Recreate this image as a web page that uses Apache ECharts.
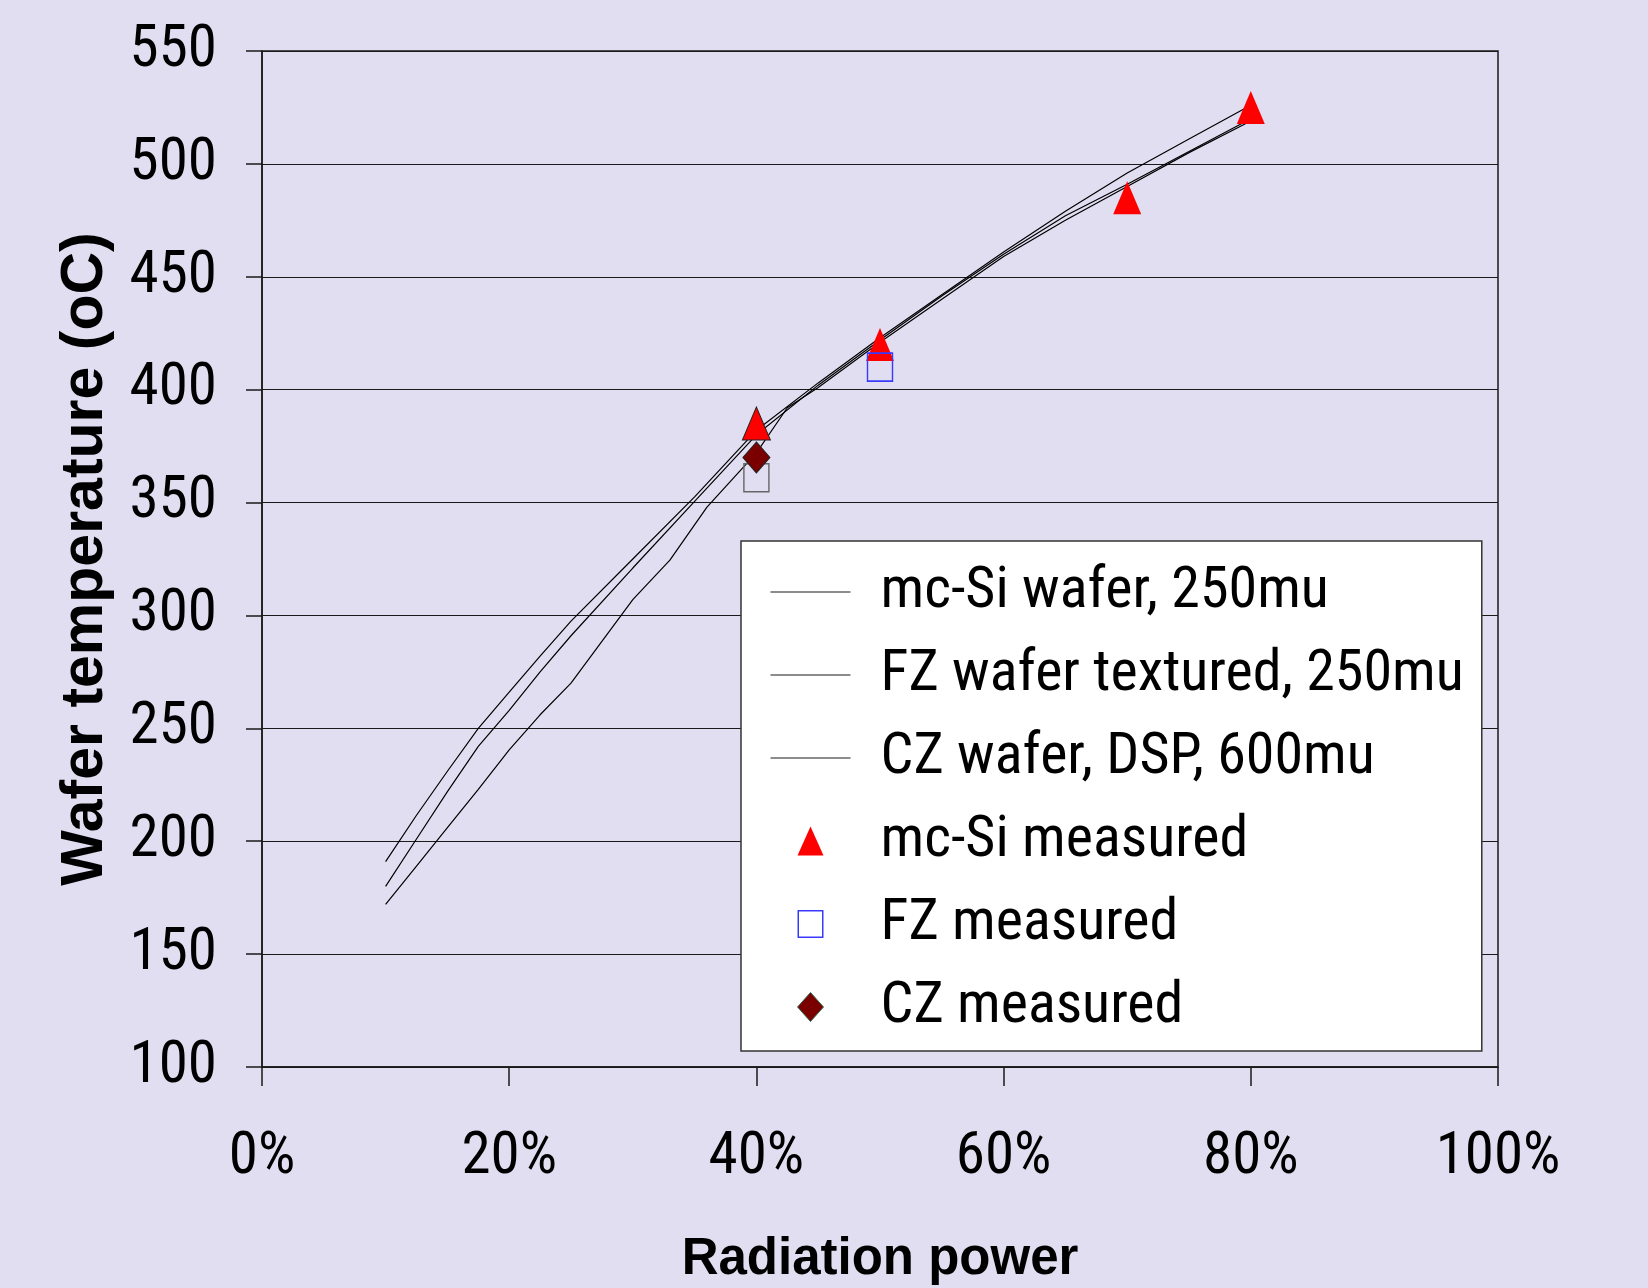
<!DOCTYPE html>
<html>
<head>
<meta charset="utf-8">
<script src="https://cdn.jsdelivr.net/npm/echarts@6/dist/echarts.min.js"></script>
<style>
html,body{margin:0;padding:0;background:#e2def1;}
#c{width:1648px;height:1288px;}
</style>
</head>
<body>
<div id="c"></div>
<script>
// Model curves: x = radiation power (fraction), y = wafer temperature (oC)
const xMcSi = [0.10,0.125,0.15,0.175,0.20,0.225,0.25,0.30,0.35,0.40,0.45,0.50,0.55,0.60,0.65,0.70,0.75,0.80];
const yMcSi = [191,211.5,231,250,266,282,297.5,325,352.5,382,403,423,442,461,479,496,511,526];
const xFZ   = [0.10,0.125,0.15,0.175,0.20,0.225,0.25,0.30,0.35,0.40,0.45,0.50,0.55,0.60,0.65,0.70,0.75,0.80];
const yFZ   = [180,201,222,242,258,275,291,321,350.5,380,402,422,441.5,460,477,491,505.5,520];
const xCZ   = [0.10,0.125,0.15,0.175,0.20,0.225,0.25,0.30,0.33,0.36,0.40,0.425,0.45,0.50,0.55,0.60,0.65,0.70,0.75,0.80];
const yCZ   = [172,189,206,223,240.5,256,270,307,324.5,348,372,392,401,421,440,459,475,490,505,519];

// Measured points
const xMcSiMeas = [0.40,0.50,0.70,0.80];
const yMcSiMeas = [385,420,485,525];
const xFZMeas   = [0.40,0.50];
const yFZMeas   = [361,410];
const xCZMeas   = [0.40];
const yCZMeas   = [370];

// Axes
const yMin = 100, yMax = 550, yStep = 50;
const xMin = 0, xMax = 1, xStep = 0.2;

const seriesNames = ['mc-Si wafer, 250mu','FZ wafer textured, 250mu','CZ wafer, DSP, 600mu','mc-Si measured','FZ measured','CZ measured'];

const pairs = (xs, ys) => xs.map((x,i)=>[x, ys[i]]);
const NARROW = "'Roboto Condensed','Liberation Sans',sans-serif";
const BOLD = "'Liberation Sans',Arial,sans-serif";
const lineSeries = (name, xs, ys) => ({
  name, type:'line', data: pairs(xs, ys), symbol:'none', showSymbol:false,
  lineStyle:{color:'#000', width:1.2}, itemStyle:{color:'#000'}, z:3
});
const LINE_ICON = 'path://M0,0M80,30M0,14.4L80,14.4L80,15.6L0,15.6Z';

const chart = echarts.init(document.getElementById('c'));
chart.setOption({
  backgroundColor:'#e2def1',
  animation:false,
  grid:{left:262, right:150, top:51, bottom:221, containLabel:false, outerBoundsMode:'none',
        show:true, borderColor:'#1a1a1a', borderWidth:1.5, backgroundColor:'transparent'},
  xAxis:{
    type:'value', min:xMin, max:xMax, interval:xStep,
    name:'Radiation power', nameLocation:'middle', nameGap:167,
    nameTextStyle:{fontFamily:BOLD, fontWeight:'bold', fontSize:51, color:'#000'},
    axisLine:{show:true, onZero:false, lineStyle:{color:'#1a1a1a', width:1.5}},
    axisTick:{show:true, inside:false, length:19, lineStyle:{color:'#1a1a1a', width:1.5}},
    axisLabel:{margin:62, fontFamily:NARROW, fontSize:59, color:'#000',
      formatter:v=>Math.round(v*100)+'%'},
    splitLine:{show:false}
  },
  yAxis:{
    type:'value', min:yMin, max:yMax, interval:yStep,
    name:'Wafer temperature (oC)', nameLocation:'middle', nameGap:147,
    nameTextStyle:{fontFamily:BOLD, fontWeight:'bold', fontSize:59, color:'#000'},
    axisLine:{show:true, onZero:false, lineStyle:{color:'#1a1a1a', width:1.5}},
    axisTick:{show:true, inside:false, length:16, lineStyle:{color:'#1a1a1a', width:1.5}},
    axisLabel:{margin:45, fontFamily:NARROW, fontSize:59, color:'#000', padding:[7,0,0,0]},
    splitLine:{show:true, lineStyle:{color:'#1a1a1a', width:1.2}}
  },
  legend:{
    orient:'vertical', left:741, top:541,
    padding:[22,18,15,29], itemGap:25,
    itemWidth:80, itemHeight:30, symbolKeepAspect:true,
    backgroundColor:'#ffffff', borderColor:'#333', borderWidth:1.5,
    textStyle:{fontFamily:NARROW, fontSize:58, color:'#000', padding:[0,0,0,25]},
    data:[
      {name:seriesNames[0], icon:LINE_ICON, itemStyle:{color:'#1a1a1a', borderWidth:0}},
      {name:seriesNames[1], icon:LINE_ICON, itemStyle:{color:'#1a1a1a', borderWidth:0}},
      {name:seriesNames[2], icon:LINE_ICON, itemStyle:{color:'#1a1a1a', borderWidth:0}},
      {name:seriesNames[3], icon:'path://M0,0M80,30M27,29.5L40,0.5L53,29.5Z', itemStyle:{color:'#ff0000', borderWidth:0}},
      {name:seriesNames[4], icon:'path://M0,0M80,30M27,1L53,1L53,29L27,29ZM28.5,2.5L28.5,27.5L51.5,27.5L51.5,2.5Z', itemStyle:{color:'#3a3aff', borderWidth:0}},
      {name:seriesNames[5], icon:'path://M0,0M80,30M40,0.5L53,15L40,29.5L27,15Z', itemStyle:{color:'#7a0000', borderColor:'#2f6b4f', borderWidth:1}}
    ]
  },
  series:[
    lineSeries(seriesNames[0], xMcSi, yMcSi),
    lineSeries(seriesNames[1], xFZ, yFZ),
    lineSeries(seriesNames[2], xCZ, yCZ),
    {
      name:seriesNames[3], type:'scatter', symbol:'triangle', symbolSize:[28,33],
      itemStyle:{color:'#ff0000', opacity:1}, z:4,
      data: pairs(xMcSiMeas, yMcSiMeas).map((p,i)=> i===0 ? {value:p, itemStyle:{borderColor:'#222', borderWidth:1}} : p)
    },
    {
      name:seriesNames[4], type:'scatter', symbol:'rect', symbolSize:[25,28],
      itemStyle:{color:'rgba(0,0,0,0)', borderColor:'#3a3aff', borderWidth:1.5, opacity:1}, z:5,
      data: pairs(xFZMeas, yFZMeas).map((p,i)=> i===0 ? {value:p, itemStyle:{borderColor:'#666'}} : p)
    },
    {
      name:seriesNames[5], type:'scatter', symbol:'diamond', symbolSize:[27,31],
      itemStyle:{color:'#7a0000', borderColor:'#222', borderWidth:1, opacity:1}, z:5,
      data: pairs(xCZMeas, yCZMeas)
    }
  ]
});
</script>
</body>
</html>
